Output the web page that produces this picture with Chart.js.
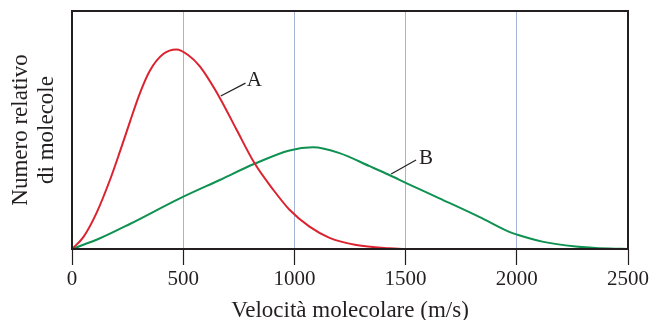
<!DOCTYPE html>
<html>
<head>
<meta charset="utf-8">
<script src="https://cdn.jsdelivr.net/npm/chart.js@4/dist/chart.umd.min.js"></script>
<style>
html,body{margin:0;padding:0;background:#fff;}
#wrap{width:651px;height:320px;position:relative;}
</style>
</head>
<body>
<div id="wrap"><canvas id="c" width="651" height="320"></canvas></div>
<script>
// Speeds (m/s) and relative number of molecules
const speedsA = [0, 51, 111, 171, 215, 260, 305, 350, 410, 470, 522, 574, 664, 739, 821, 904, 978, 1068, 1158, 1278, 1427, 1500, 2500];
const valuesA = [0, 0.05, 0.153, 0.291, 0.408, 0.533, 0.654, 0.749, 0.819, 0.838, 0.815, 0.768, 0.636, 0.503, 0.36, 0.25, 0.165, 0.094, 0.047, 0.017, 0.003, 0, 0];
const speedsB = [0, 126, 260, 485, 664, 821, 978, 1083, 1203, 1338, 1427, 1510, 1652, 1831, 1966, 2003, 2115, 2265, 2415, 2500];
const valuesB = [0, 0.045, 0.105, 0.213, 0.29, 0.358, 0.414, 0.427, 0.403, 0.348, 0.311, 0.274, 0.213, 0.135, 0.072, 0.06, 0.031, 0.011, 0.002, 0];
const xTicks = [0, 500, 1000, 1500, 2000, 2500];
const curveLabels = ['A', 'B'];
// leader line start (on curve), leader line end, label position — in data units
const labelLineFrom = [[669, 0.643], [1435, 0.315]];
const labelLineTo = [[780, 0.697], [1547, 0.374]];
const labelPos = [[820, 0.706], [1592, 0.382]];

const FONT = "'Liberation Serif', 'DejaVu Serif', serif";
const TXT = '#231f20';

const toPts = (xs, ys) => xs.map((x, i) => ({x: x, y: ys[i]}));

const framePlugin = {
  id: 'frame',
  afterDatasetsDraw(chart) {
    const {ctx, chartArea: a, scales} = chart;
    ctx.save();
    ctx.strokeStyle = '#231f20';
    ctx.lineWidth = 2;
    ctx.strokeRect(a.left, a.top, a.right - a.left, a.bottom - a.top);
    // labels + leader lines
    ctx.lineWidth = 1.2;
    ctx.fillStyle = TXT;
    ctx.font = "21px " + FONT;
    ctx.textAlign = 'center';
    ctx.textBaseline = 'middle';
    for (let i = 0; i < curveLabels.length; i++) {
      ctx.beginPath();
      ctx.moveTo(scales.x.getPixelForValue(labelLineFrom[i][0]), scales.y.getPixelForValue(labelLineFrom[i][1]));
      ctx.lineTo(scales.x.getPixelForValue(labelLineTo[i][0]), scales.y.getPixelForValue(labelLineTo[i][1]));
      ctx.stroke();
      ctx.fillText(curveLabels[i], scales.x.getPixelForValue(labelPos[i][0]), scales.y.getPixelForValue(labelPos[i][1]));
    }
    ctx.restore();
  }
};

new Chart(document.getElementById('c'), {
  type: 'line',
  data: {
    datasets: [
      {label: 'A', data: toPts(speedsA, valuesA), borderColor: '#db2330', borderWidth: 2, pointRadius: 0, cubicInterpolationMode: 'monotone', fill: false},
      {label: 'B', data: toPts(speedsB, valuesB), borderColor: '#0e9151', borderWidth: 2, pointRadius: 0, cubicInterpolationMode: 'monotone', fill: false}
    ]
  },
  options: {
    responsive: false,
    animation: false,
    layout: {padding: {top: 11, right: 22, left: 0, bottom: 0}},
    plugins: {legend: {display: false}, tooltip: {enabled: false}},
    scales: {
      x: {
        type: 'linear', min: 0, max: 2500,
        afterBuildTicks(s) { s.ticks = xTicks.map(v => ({value: v})); },
        afterFit(s) { s.height = 71; },
        grid: {color: '#a3b4d6', lineWidth: 1, tickLength: 16, tickColor: '#231f20', tickWidth: 1.2, drawOnChartArea: true},
        border: {display: true, color: '#231f20', width: 2},
        ticks: {color: TXT, font: {family: FONT, size: 21}, padding: 2, maxRotation: 0, callback: v => String(v)},
        title: {display: true, text: 'Velocità molecolare (m/s)', color: TXT, font: {family: FONT, size: 23, lineHeight: 0.8}, padding: {top: 0, bottom: 0}}
      },
      y: {
        min: 0, max: 1,
        afterFit(s) { s.width = 72; },
        grid: {display: false},
        border: {display: true, color: '#231f20', width: 2},
        ticks: {display: false},
        title: {display: true, text: ['Numero relativo', 'di molecole'], color: TXT, font: {family: FONT, size: 23, lineHeight: 1.13}, padding: {top: 8, bottom: 0}}
      }
    }
  },
  plugins: [framePlugin]
});
</script>
</body>
</html>
